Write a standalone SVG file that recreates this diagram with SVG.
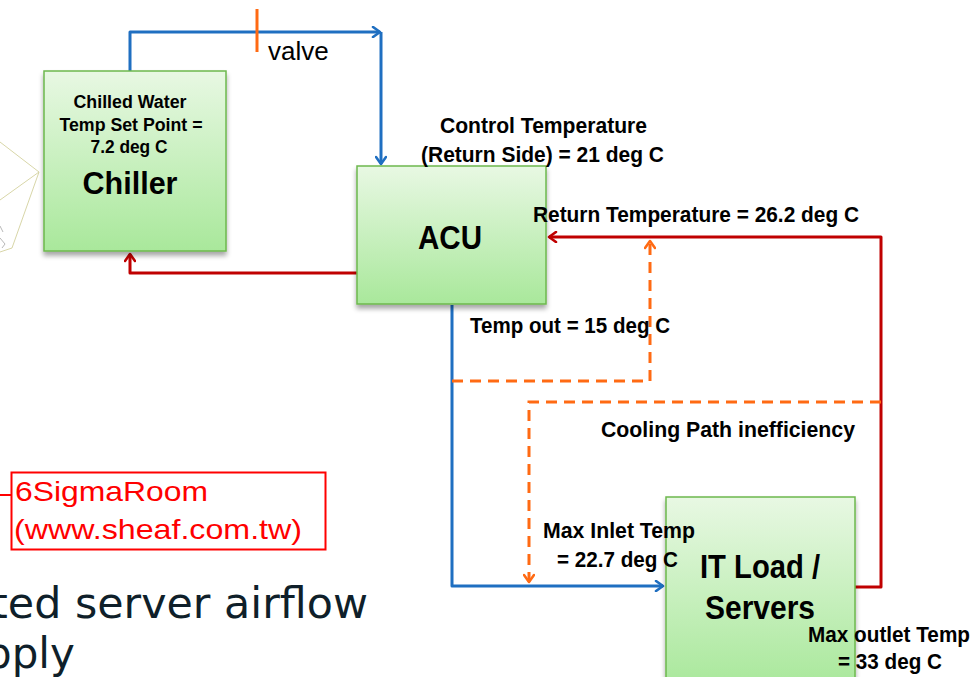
<svg xmlns="http://www.w3.org/2000/svg" width="978" height="677" viewBox="0 0 978 677">
  <defs>
    <linearGradient id="boxFill" x1="0" y1="0" x2="0" y2="1">
      <stop offset="0" stop-color="#e8f8e3"/>
      <stop offset="1" stop-color="#a9e89b"/>
    </linearGradient>
    <filter id="shadow" x="-10%" y="-10%" width="120%" height="125%">
      <feGaussianBlur in="SourceAlpha" stdDeviation="2.5"/>
      <feOffset dx="0" dy="4" result="b"/>
      <feComponentTransfer><feFuncA type="linear" slope="0.35"/></feComponentTransfer>
      <feMerge><feMergeNode/><feMergeNode in="SourceGraphic"/></feMerge>
    </filter>
    <marker id="arrBlue" viewBox="0 0 12 12" refX="10" refY="6" markerWidth="12" markerHeight="12" markerUnits="userSpaceOnUse" orient="auto">
      <path d="M3,1 L10,6 L3,11" fill="none" stroke="#1f6fc1" stroke-width="2.6" stroke-linecap="round" stroke-linejoin="round"/>
    </marker>
    <marker id="arrRed" viewBox="0 0 12 12" refX="10" refY="6" markerWidth="12" markerHeight="12" markerUnits="userSpaceOnUse" orient="auto">
      <path d="M3,1 L10,6 L3,11" fill="none" stroke="#c00000" stroke-width="2.6" stroke-linecap="round" stroke-linejoin="round"/>
    </marker>
    <marker id="arrOrange" viewBox="0 0 12 12" refX="10" refY="6" markerWidth="12" markerHeight="12" markerUnits="userSpaceOnUse" orient="auto">
      <path d="M3,1 L10,6 L3,11" fill="none" stroke="#ff6a13" stroke-width="2.6" stroke-linecap="round" stroke-linejoin="round"/>
    </marker>
  </defs>
  <style>
    .box { fill: url(#boxFill); stroke: #6cb84e; stroke-width: 1.5; filter: url(#shadow); }
    .lbl { font-family: "Liberation Sans Narrow", "Liberation Sans", Arial, sans-serif; font-weight: bold; fill: #000; }
    .small { font-size: 18px; }
    .mid { font-size: 22px; }
    .big { font-size: 33px; }
    .blue { fill: none; stroke: #1f6fc1; stroke-width: 3; stroke-linejoin: round; }
    .red { fill: none; stroke: #c00000; stroke-width: 3; stroke-linejoin: round; }
    .orange { fill: none; stroke: #ff6a13; stroke-width: 3; stroke-dasharray: 11 7; }
    .note { font-family: "Liberation Sans", Arial, sans-serif; font-size: 28px; fill: #ff0000; }
    .body { font-family: Verdana, "DejaVu Sans", sans-serif; font-size: 42px; fill: #0f1f2a; }
  </style>

  <rect width="978" height="677" fill="#ffffff"/>

  <!-- faint sketch at the left edge -->
  <g id="sketch" fill="none" stroke="#d8d6a8" stroke-width="1">
    <path d="M0,142 L39,172 L12,248 L0,252"/>
    <path d="M0,200 L39,172"/>
    <path d="M0,226 L3,232 M0,238 L5,244 L2,248" stroke="#b8b8b8"/>
  </g>

  <!-- connectors -->
  <g id="connectors">
    <!-- chilled water supply -->
    <path class="blue" d="M130,71 L130,32 L380,32" marker-end="url(#arrBlue)"/>
    <path class="blue" d="M381,32 L381,164" marker-end="url(#arrBlue)"/>
    <!-- valve tick -->
    <line x1="257" y1="9" x2="257" y2="52" stroke="#ff6a13" stroke-width="3"/>
    <!-- water return to chiller -->
    <path class="red" d="M357,273 L130,273 L130,254" marker-end="url(#arrRed)"/>
    <!-- supply air to IT load -->
    <path class="blue" d="M452,305 L452,586 L663,586" marker-end="url(#arrBlue)"/>
    <!-- hot air return to ACU -->
    <path class="red" d="M855,587 L881,587 L881,237 L549,237" marker-end="url(#arrRed)"/>
    <!-- recirculation paths -->
    <path class="orange" d="M452,381 L650,381 L650,241" marker-end="url(#arrOrange)"/>
    <path class="orange" d="M881,402 L529,402 L529,582" marker-end="url(#arrOrange)"/>
  </g>

  <!-- Chiller -->
  <g id="chiller">
    <rect class="box" x="44" y="71" width="182" height="180"/>
    <text class="lbl small" x="130" y="108" text-anchor="middle" textLength="113" lengthAdjust="spacingAndGlyphs">Chilled Water</text>
    <text class="lbl small" x="131" y="131" text-anchor="middle" textLength="143" lengthAdjust="spacingAndGlyphs">Temp Set Point =</text>
    <text class="lbl small" x="129" y="153" text-anchor="middle" textLength="77" lengthAdjust="spacingAndGlyphs">7.2 deg C</text>
    <text class="lbl" font-size="31" x="130" y="194" text-anchor="middle" textLength="95" lengthAdjust="spacingAndGlyphs">Chiller</text>
  </g>

  <!-- ACU -->
  <g id="acu">
    <rect class="box" x="357" y="166" width="189" height="138"/>
    <text class="lbl big" x="450" y="249" text-anchor="middle" textLength="64" lengthAdjust="spacingAndGlyphs">ACU</text>
  </g>

  <!-- IT Load / Servers -->
  <g id="it-load">
    <rect class="box" x="666" y="497" width="189" height="190"/>
    <text class="lbl big" x="760" y="578" text-anchor="middle" textLength="120" lengthAdjust="spacingAndGlyphs">IT Load /</text>
    <text class="lbl big" x="760" y="619" text-anchor="middle" textLength="110" lengthAdjust="spacingAndGlyphs">Servers</text>
  </g>

  <!-- labels -->
  <g id="labels">
    <text x="268" y="60" font-family="'Liberation Sans', Arial, sans-serif" font-size="26" fill="#000">valve</text>
    <text class="lbl mid" x="440" y="133" textLength="207" lengthAdjust="spacingAndGlyphs">Control Temperature</text>
    <text class="lbl mid" x="421" y="162" textLength="243" lengthAdjust="spacingAndGlyphs">(Return Side) = 21 deg C</text>
    <text class="lbl mid" x="533" y="222" textLength="326" lengthAdjust="spacingAndGlyphs">Return Temperature = 26.2 deg C</text>
    <text class="lbl mid" x="470" y="333" textLength="200" lengthAdjust="spacingAndGlyphs">Temp out = 15 deg C</text>
    <text class="lbl mid" x="601" y="437" textLength="254" lengthAdjust="spacingAndGlyphs">Cooling Path inefficiency</text>
    <text class="lbl mid" x="543" y="538" textLength="152" lengthAdjust="spacingAndGlyphs">Max Inlet Temp</text>
    <text class="lbl mid" x="557" y="567" textLength="121" lengthAdjust="spacingAndGlyphs">= 22.7 deg C</text>
    <text class="lbl mid" x="808" y="642" textLength="162" lengthAdjust="spacingAndGlyphs">Max outlet Temp</text>
    <text class="lbl mid" x="838" y="669" textLength="104" lengthAdjust="spacingAndGlyphs">= 33 deg C</text>
  </g>

  <!-- source callout -->
  <g id="source-note">
    <line x1="0" y1="495" x2="12" y2="495" stroke="#ff0000" stroke-width="2"/>
    <rect x="11.5" y="472.5" width="314" height="77" fill="none" stroke="#ff0000" stroke-width="2"/>
    <text class="note" x="15" y="501" textLength="193" lengthAdjust="spacingAndGlyphs">6SigmaRoom</text>
    <text class="note" x="14" y="539" textLength="288" lengthAdjust="spacingAndGlyphs">(www.sheaf.com.tw)</text>
  </g>

  <!-- slide body text, running off the left edge of the frame -->
  <g id="body-text">
    <text class="body" x="-9" y="618" textLength="377" lengthAdjust="spacingAndGlyphs">ted server airflow</text>
    <text class="body" x="-15" y="668">pply</text>
  </g>
</svg>
